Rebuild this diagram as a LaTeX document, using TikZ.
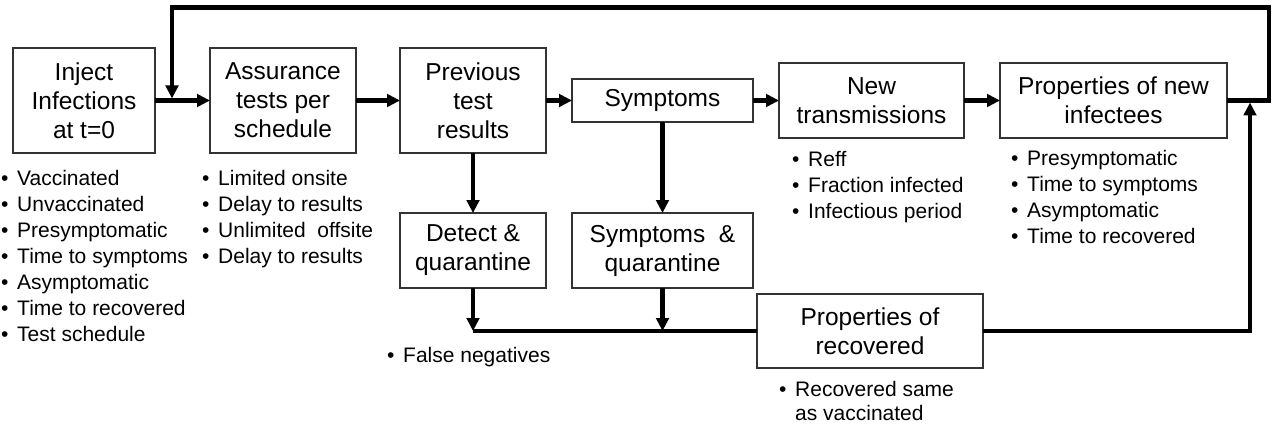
\documentclass[tikz,border=0pt]{standalone}
\usepackage{fontspec}
\setmainfont{Liberation Sans}
\usetikzlibrary{arrows.meta,positioning}
\tikzset{
  stage/.style={draw=black!80,line width=1.2pt,outer sep=0pt,align=center,
    inner sep=2pt,font=\fontsize{24.5}{29}\selectfont},
  link/.style={-{Triangle[length=13pt,width=12.5pt]},line width=4.2pt},
  wire/.style={line width=4.2pt},
  notes/.style={align=left,inner sep=0pt,font=\fontsize{21}{26}\selectfont}
}
\newcommand{\itm}[1]{\strut\makebox[16pt][l]{\textbullet}#1}

\begin{document}
\begin{tikzpicture}[x=1pt,y=1pt]
  \useasboundingbox (0,0) rectangle (1273,-425);

  % top row of stages
  \node[stage,minimum width=142pt,minimum height=105pt] (inject) at (84,-100.5)
    {Inject\\Infections\\at t=0};
  \node[stage,minimum width=146pt,minimum height=105pt,right=55pt of inject] (assur)
    {Assurance\\tests per\\schedule};
  \node[stage,minimum width=146pt,minimum height=105pt,right=44pt of assur] (prev)
    {Previous\\test\\results};
  \node[stage,minimum width=181pt,minimum height=43pt,right=26pt of prev] (symp)
    {Symptoms};
  \node[stage,minimum width=185pt,minimum height=75pt,right=26pt of symp] (newt)
    {New\\transmissions};
  \node[stage,minimum width=227pt,minimum height=75pt,right=36pt of newt] (props)
    {Properties of new\\infectees};

  % quarantine and recovery
  \node[stage,minimum width=146pt,minimum height=75pt,below=60pt of prev] (detect)
    {Detect \&\\quarantine};
  \node[stage,minimum width=181pt,minimum height=75pt,right=26pt of detect] (symq)
    {Symptoms~ \&\\quarantine};
  \node[stage,minimum width=226pt,minimum height=74pt,
    below right=6pt and 4pt of symq.south east] (recov) {Properties of\\recovered};

  % notes under the stages
  \node[notes,below right=13.8pt and -12pt of inject.south west] (injnotes) {
    \itm{Vaccinated}\\\itm{Unvaccinated}\\\itm{Presymptomatic}\\
    \itm{Time to symptoms}\\\itm{Asymptomatic}\\\itm{Time to recovered}\\
    \itm{Test schedule}};
  \node[notes,below right=13.8pt and -8pt of assur.south west] (assurnotes) {
    \itm{Limited onsite}\\\itm{Delay to results}\\\itm{Unlimited~ offsite}\\
    \itm{Delay to results}};
  \node[notes,below right=9.8pt and 13pt of newt.south west] (newtnotes) {
    \itm{Reff}\\\itm{Fraction infected}\\\itm{Infectious period}};
  \node[notes,below right=8.8pt and 11pt of props.south west] (propsnotes) {
    \itm{Presymptomatic}\\\itm{Time to symptoms}\\\itm{Asymptomatic}\\
    \itm{Time to recovered}};
  \node[notes,below right=55.8pt and -13pt of detect.south west] (fneg) {
    \itm{False negatives}};
  \node[notes,font=\fontsize{21}{24}\selectfont,
    below right=11.8pt and 22pt of recov.south west] (recovnotes) {
    \itm{Recovered same}\\\hspace*{16pt}as vaccinated};

  % main flow
  \draw[link] (inject) -- (assur);
  \draw[link] (assur) -- (prev);
  \draw[link] (prev) -- (symp);
  \draw[link] (symp) -- (newt);
  \draw[link] (newt) -- (props);
  \draw[link] (prev) -- (detect);
  \draw[link] (symp) -- (symq);

  % quarantined and recovered go back
  \coordinate (joinA) at (detect.south |- recov.west);
  \coordinate (joinB) at (symq.south |- recov.west);
  \draw[link] (detect) -- (joinA);
  \draw[link] (symq) -- (joinB);
  \draw[wire] (joinA) -- (recov.west);
  \coordinate (rise) at ([xshift=23pt]props.east);
  \draw[link,shorten >=2pt] (recov.east) -| (rise);

  % feedback loop to the start
  \coordinate (loopR) at ([xshift=42pt]props.east);
  \coordinate (drop) at ([xshift=17pt]inject.east);
  \coordinate (loopT) at ([yshift=93pt]drop);
  \draw[link,shorten >=2pt] (props.east) -- (loopR) |- (loopT) -- (drop);
\end{tikzpicture}
\end{document}
